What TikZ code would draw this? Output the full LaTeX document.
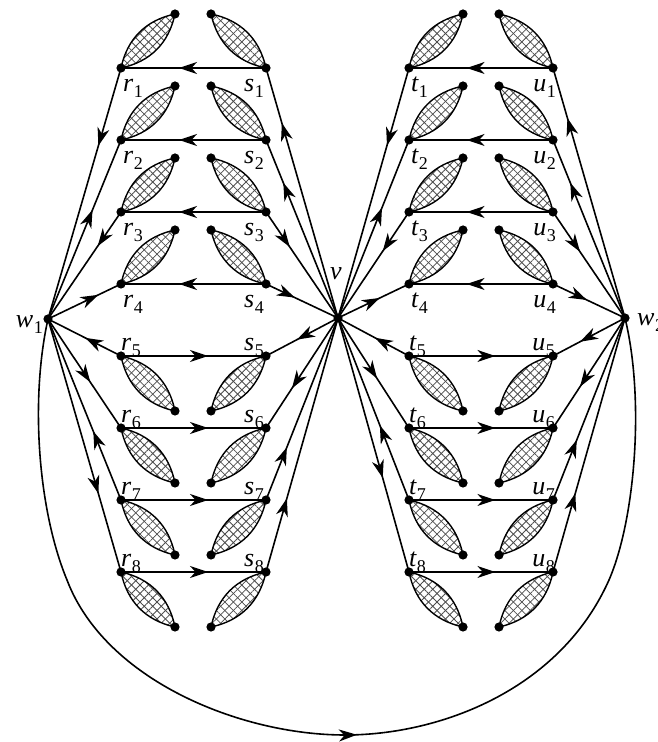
\documentclass[tikz,border=0pt]{standalone}
\usepackage{fontspec}
\setmainfont{Liberation Serif}
\newfontfamily\labfont{Liberation Serif}
\usetikzlibrary{arrows.meta,decorations.markings,patterns.meta}
\newcommand\vlab[2]{{\labfont\itshape #1}\kern0.5pt\raisebox{-5.5pt}{\labfont\fontsize{18}{18}\selectfont #2}}
\tikzset{
  mytip/.tip={Stealth[length=18pt,width=12pt,inset=5.5pt]},
  link/.style={line width=1.6pt},
  fwd/.style={postaction={decorate},decoration={markings,mark=at position #1 with {\arrow{mytip}}}},
  bwd/.style={postaction={decorate},decoration={markings,mark=at position #1 with {\arrowreversed{mytip}}}},
  lensbody/.style={line width=1.4pt,
    preaction={pattern={Lines[angle=45,distance=6pt,line width=0.8pt]},pattern color=black!70},
    pattern={Lines[angle=-45,distance=6pt,line width=0.8pt]},pattern color=black!70},
  lbl/.style={inner sep=0pt,font=\labfont\fontsize{26}{28}\selectfont},
}
\begin{document}
\begin{tikzpicture}[x=1pt,y=1pt]
\useasboundingbox (0,0) rectangle (657,742);
% hubs
\coordinate (w1) at (48,423);
\coordinate (v) at (338,424);
\coordinate (w2) at (625,424);
% row nodes and lens tips
\foreach \i/\y/\e in {1/674/728,2/602/656,3/530/584,4/458/512,5/386/331,6/314/259,7/242/187,8/170/115} {
  \coordinate (r\i) at (121,\y);
  \coordinate (s\i) at (266,\y);
  \coordinate (t\i) at (409,\y);
  \coordinate (u\i) at (553,\y);
  \coordinate (re\i) at (175,\e);
  \coordinate (se\i) at (211,\e);
  \coordinate (te\i) at (463,\e);
  \coordinate (ue\i) at (499,\e);
}
% lenses
\foreach \i in {1,...,8} {
  \draw[lensbody] (r\i) to[bend left=33] (re\i) to[bend left=33] (r\i);
  \draw[lensbody] (s\i) to[bend left=33] (se\i) to[bend left=33] (s\i);
  \draw[lensbody] (t\i) to[bend left=33] (te\i) to[bend left=33] (t\i);
  \draw[lensbody] (u\i) to[bend left=33] (ue\i) to[bend left=33] (u\i);
}
% horizontal edges
\foreach \i in {1,2,3,4} {
  \draw[link,fwd=0.6] (s\i) -- (r\i);
  \draw[link,fwd=0.6] (u\i) -- (t\i);
}
\foreach \i in {5,6,7,8} {
  \draw[link,fwd=0.6] (r\i) -- (s\i);
  \draw[link,fwd=0.6] (t\i) -- (u\i);
}
% hub edges
\foreach \n/\p in {r2/0.61,r4/0.69,r6/0.58,r8/0.69} \draw[link,fwd=\p] (w1) -- (\n);
\foreach \n/\p in {r1/0.69,r3/0.68,r5/0.51,r7/0.62} \draw[link,bwd=\p] (w1) -- (\n);
\foreach \n/\p in {s1/0.78,s2/0.76,s5/0.57,s6/0.64} \draw[link,fwd=\p] (v) -- (\n);
\foreach \n/\p in {s3/0.67,s4/0.6,s7/0.71,s8/0.71} \draw[link,bwd=\p] (v) -- (\n);
\foreach \n/\p in {t2/0.62,t4/0.59,t6/0.55,t8/0.63} \draw[link,fwd=\p] (v) -- (\n);
\foreach \n/\p in {t1/0.69,t3/0.63,t5/0.52,t7/0.59} \draw[link,bwd=\p] (v) -- (\n);
\foreach \n/\p in {u1/0.8,u2/0.76,u5/0.625,u6/0.625} \draw[link,fwd=\p] (w2) -- (\n);
\foreach \n/\p in {u3/0.625,u4/0.53,u7/0.67,u8/0.69} \draw[link,bwd=\p] (w2) -- (\n);
% big curve
\draw[link,fwd=0.515] (w1) .. controls (30,342) and (38,232) .. (67,162)
  .. controls (105,62) and (240,7) .. (345,7)
  .. controls (440,7) and (560,52) .. (609,162)
  .. controls (635,222) and (645,342) .. (w2);
% dots
\foreach \n in {w1,v,w2} \fill (\n) circle[radius=4.6];
\foreach \i in {1,...,8} {
  \foreach \k in {r,s,t,u,re,se,te,ue} \fill (\k\i) circle[radius=4.6];
}
% labels
\foreach \i in {1,2,3,4} {
  \node[lbl,anchor=base west] at ([shift={(2,-24)}]r\i) {\vlab{r}{\i}};
  \node[lbl,anchor=base east] at ([shift={(-2,-24)}]s\i) {\vlab{s}{\i}};
  \node[lbl,anchor=base west] at ([shift={(2,-24)}]t\i) {\vlab{t}{\i}};
  \node[lbl,anchor=base east] at ([shift={(3,-24)}]u\i) {\vlab{u}{\i}};
}
\foreach \i in {5,6,7,8} {
  \node[lbl,anchor=base west] at ([shift={(0,5)}]r\i) {\vlab{r}{\i}};
  \node[lbl,anchor=base east] at ([shift={(-2,5)}]s\i) {\vlab{s}{\i}};
  \node[lbl,anchor=base west] at ([shift={(0,5)}]t\i) {\vlab{t}{\i}};
  \node[lbl,anchor=base east] at ([shift={(2,5)}]u\i) {\vlab{u}{\i}};
}
\node[lbl,anchor=base] (vl) at ([shift={(-2,38)}]v) {{\itshape v}};
\node[lbl,anchor=base east] (w1l) at ([shift={(-5,-9)}]w1) {\vlab{w}{1}};
\node[lbl,anchor=base west] (w2l) at ([shift={(12,-8)}]w2) {\vlab{w}{2}};
\end{tikzpicture}
\end{document}
